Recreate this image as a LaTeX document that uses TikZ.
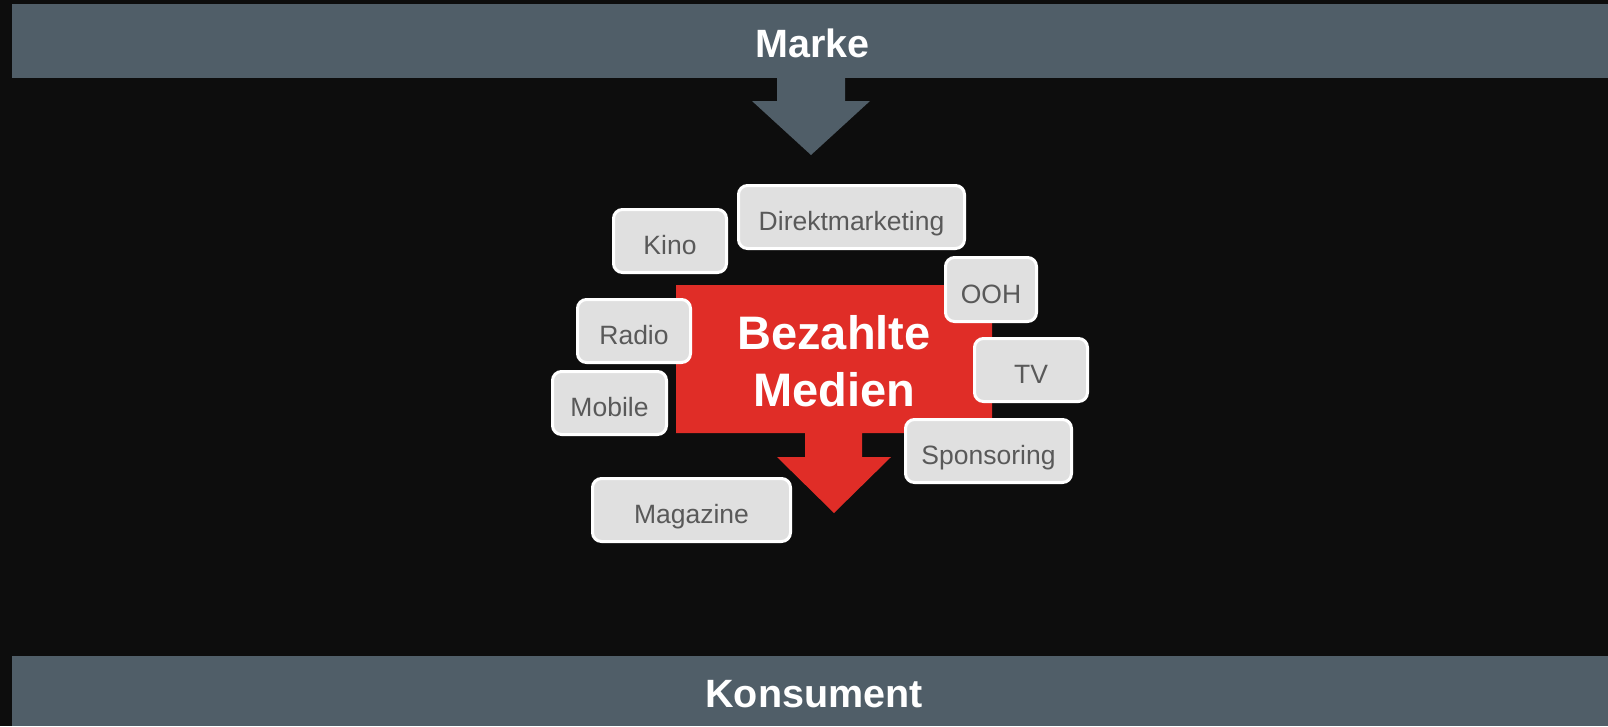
\documentclass[tikz,border=0pt]{standalone}
\usepackage{fontspec}
\setmainfont{Liberation Sans}
\definecolor{bgblack}{HTML}{0D0D0D}
\definecolor{bargray}{HTML}{505E68}
\definecolor{paidred}{HTML}{E02D27}
\definecolor{boxfill}{HTML}{E0E0E0}
\definecolor{boxtext}{HTML}{595959}

\begin{document}
\begin{tikzpicture}[
  x=1pt, y=-1pt,
  bar/.style={rectangle, fill=bargray, inner sep=0pt, minimum width=1596pt,
    text=white, font=\fontsize{39.5}{46}\bfseries\selectfont,
    text height=33pt, text depth=0pt},
  paid/.style={align=center, text=white, font=\fontsize{47}{57}\bfseries\selectfont},
  medium/.style={rectangle, rounded corners=9pt, draw=white, line width=3pt,
    fill=boxfill, text=boxtext, font=\fontsize{26.5}{32}\selectfont,
    minimum height=63pt, text height=27pt, text depth=0pt, inner sep=0pt}
]
\fill[bgblack] (0,0) rectangle (1608,726);
\useasboundingbox (0,0) rectangle (1608,726);

% top and bottom bars
\node[bar, minimum height=74pt] (marke) at (810,41) {\hspace{5pt}Marke};
\node[bar, minimum height=70pt] (konsument) at (810,691) {\hspace{8pt}Konsument};
\fill[bargray] (777,77) -- (845,77) -- (845,101) -- (870,101) -- (811,155)
  -- (752,101) -- (777,101) -- cycle;

% paid media arrow
\fill[paidred] (676,285) -- (992,285) -- (992,433) -- (862,433) -- (862,457)
  -- (891,457) -- (834,513) -- (777,457) -- (805,457) -- (805,433)
  -- (676,433) -- cycle;
\node[paid] (bezahlt) at (834,361) {Bezahlte\\Medien};

% media boxes
\node[medium, minimum width=113pt] (kino) at (670,241) {Kino};
\node[medium, minimum width=226pt] (direkt) at (851.5,217) {Direktmarketing};
\node[medium, minimum width=91pt, minimum height=64pt] (ooh) at (991,289.5) {OOH};
\node[medium, minimum width=113pt] (radio) at (634,331) {Radio};
\node[medium, minimum width=113pt] (tv) at (1031,370) {TV};
\node[medium, minimum width=114pt] (mobile) at (609.5,403) {Mobile};
\node[medium, minimum width=166pt] (sponsoring) at (988.5,451) {Sponsoring};
\node[medium, minimum width=198pt] (magazine) at (691.5,510) {Magazine};
\end{tikzpicture}
\end{document}
